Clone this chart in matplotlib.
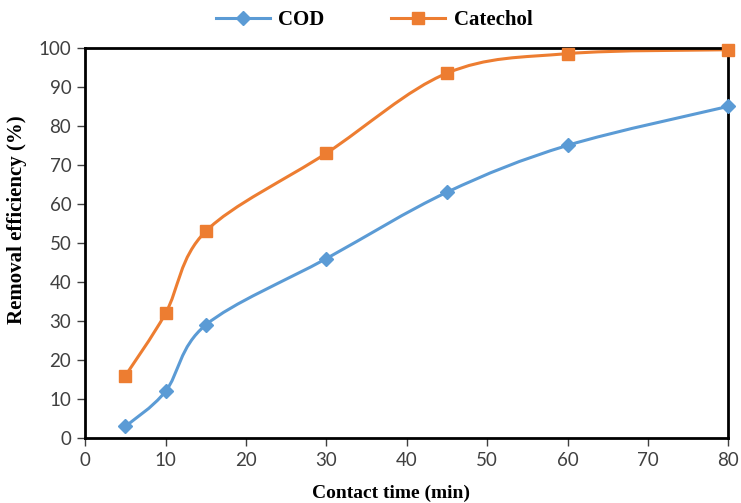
import numpy as np
import matplotlib
matplotlib.use('Agg')
import matplotlib.pyplot as plt
from matplotlib.path import Path
from matplotlib.patches import PathPatch
from matplotlib.lines import Line2D

# data
time_min = [5, 10, 15, 30, 45, 60, 80]
cod = [3, 12, 29, 46, 63, 75, 85]
catechol = [16, 32, 53, 73, 93.5, 98.5, 99.5]

blue = '#5B9BD5'
orange = '#ED7D31'


def smooth_path(x, y):
    # Excel-like smoothed line: cubic bezier, control points from neighbours
    x = np.asarray(x, float)
    y = np.asarray(y, float)
    n = len(x)
    verts = [(x[0], y[0])]
    codes = [Path.MOVETO]
    t = 1 / 6
    for i in range(n - 1):
        x0, y0 = (x[i - 1], y[i - 1]) if i > 0 else (x[i], y[i])
        x3, y3 = (x[i + 2], y[i + 2]) if i + 2 < n else (x[i + 1], y[i + 1])
        c1 = (x[i] + t * (x[i + 1] - x0), y[i] + t * (y[i + 1] - y0))
        c2 = (x[i + 1] - t * (x3 - x[i]), y[i + 1] - t * (y3 - y[i]))
        verts += [c1, c2, (x[i + 1], y[i + 1])]
        codes += [Path.CURVE4] * 3
    return Path(verts, codes)


fig = plt.figure(figsize=(7.41, 5.03), dpi=100)
ax = fig.add_axes([0.115, 0.129, 0.868, 0.776])

for ys, col, mk, ms in [(cod, blue, 'D', 7), (catechol, orange, 's', 9)]:
    patch = PathPatch(smooth_path(time_min, ys), facecolor='none', edgecolor=col,
                      lw=2.2, clip_on=False, zorder=2)
    ax.add_patch(patch)
    ax.plot(time_min, ys, linestyle='none', marker=mk, markersize=ms, color=col,
            clip_on=False, zorder=3)

ax.set_xlim(0, 80)
ax.set_ylim(0, 100)
ax.set_xticks(range(0, 81, 10))
ax.set_yticks(range(0, 101, 10))
for s in ax.spines.values():
    s.set_linewidth(2)
    s.set_color('black')
ax.tick_params(direction='out', length=6, width=1, colors='#404040', labelsize=13.5, pad=4)
for lab in ax.get_xticklabels() + ax.get_yticklabels():
    lab.set_family('Lato')
    lab.set_color('#404040')

ax.set_xlabel('Contact time (min)', family='Liberation Serif', fontweight='bold', fontsize=14)
ax.set_ylabel('Removal efficiency (%)', family='Liberation Serif', fontweight='bold', fontsize=15)
ax.xaxis.set_label_coords(0.475, -0.12)
ax.yaxis.set_label_coords(-0.09, 0.56)

handles = [Line2D([], [], color=blue, lw=2.2, marker='D', markersize=7),
           Line2D([], [], color=orange, lw=2.2, marker='s', markersize=9)]
leg = fig.legend(handles, ['COD', 'Catechol'], loc='center', bbox_to_anchor=(0.505, 0.96),
                 ncol=2, frameon=False, columnspacing=3.2, handlelength=2.6, handletextpad=0.4,
                 prop={'family': 'Liberation Serif', 'weight': 'bold', 'size': 15})

fig.savefig('out.png', dpi=100)
